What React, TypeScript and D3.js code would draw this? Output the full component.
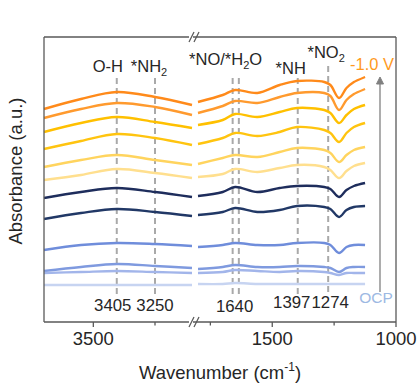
import * as d3 from "d3";

const width = 420;
const height = 384;

// wavenumbers sampled on each side of the axis break (cm-1)
const leftWn = [3700, 3550, 3405, 3250, 3100];
const rightWn = [1800, 1700, 1650, 1560, 1470, 1400, 1290, 1265, 1230, 1200, 1170, 1125];

// spectra, top (-1.0 V) to bottom (OCP), absorbance in a.u.
const leftSeries = [
  [2.13, 2.23, 2.30, 2.25, 2.17],
  [2.04, 2.13, 2.19, 2.15, 2.07],
  [1.90, 1.99, 2.05, 2.00, 1.94],
  [1.73, 1.81, 1.88, 1.84, 1.77],
  [1.55, 1.62, 1.67, 1.62, 1.57],
  [1.42, 1.47, 1.53, 1.49, 1.44],
  [1.24, 1.30, 1.34, 1.30, 1.25],
  [1.03, 1.09, 1.13, 1.10, 1.06],
  [0.72, 0.77, 0.79, 0.78, 0.76],
  [0.51, 0.55, 0.58, 0.56, 0.54],
  [0.49, 0.50, 0.51, 0.50, 0.49],
  [0.37, 0.37, 0.37, 0.37, 0.37],
];

const rightSeries = [
  [2.20, 2.27, 2.32, 2.29, 2.37, 2.41, 2.40, 2.37, 2.24, 2.34, 2.40, 2.45],
  [2.09, 2.16, 2.21, 2.19, 2.25, 2.29, 2.29, 2.26, 2.12, 2.22, 2.28, 2.33],
  [1.97, 2.02, 2.08, 2.05, 2.10, 2.14, 2.12, 2.09, 1.99, 2.07, 2.13, 2.17],
  [1.78, 1.84, 1.89, 1.86, 1.90, 1.95, 1.92, 1.89, 1.80, 1.89, 1.95, 1.99],
  [1.58, 1.64, 1.67, 1.65, 1.70, 1.74, 1.72, 1.69, 1.60, 1.67, 1.72, 1.75],
  [1.45, 1.48, 1.53, 1.50, 1.54, 1.57, 1.55, 1.52, 1.44, 1.51, 1.56, 1.59],
  [1.26, 1.30, 1.35, 1.30, 1.34, 1.36, 1.35, 1.33, 1.25, 1.32, 1.36, 1.39],
  [1.07, 1.10, 1.14, 1.10, 1.12, 1.16, 1.15, 1.13, 1.05, 1.12, 1.15, 1.16],
  [0.75, 0.77, 0.79, 0.77, 0.77, 0.79, 0.79, 0.77, 0.69, 0.75, 0.77, 0.77],
  [0.53, 0.55, 0.57, 0.55, 0.55, 0.56, 0.55, 0.54, 0.50, 0.54, 0.55, 0.55],
  [0.49, 0.50, 0.52, 0.51, 0.50, 0.51, 0.50, 0.49, 0.47, 0.49, 0.49, 0.49],
  [0.38, 0.38, 0.39, 0.38, 0.38, 0.38, 0.38, 0.38, 0.38, 0.38, 0.38, 0.38],
];

const colors = [
  "#FF8A1A", "#FF9A2E", "#FFC000", "#FFC40F", "#FFD45E", "#FFDF8E",
  "#1E2D5C", "#213866", "#6F8DDB", "#7F9ADF", "#A2B5EA", "#C7D4F1",
];

const majorTicks = [3500, 1500, 1000];
const minorTicks = [3250, 1750, 1250];

// dashed guide lines
const leftGuides = [3405, 3250];
const rightGuides = [1660, 1635, 1397, 1274];

const font = "'Liberation Sans', Arial, sans-serif";

const App = () => {
  const left = 44, right = 396, top = 37, bottom = 322;
  const xL = d3.scaleLinear().domain([3700, 3100]).range([left, 192]);
  const xR = d3.scaleLinear().domain([1800, 1000]).range([198, right]);
  const y = d3.scaleLinear().domain([0, 2.85]).range([bottom, top]);
  const xAny = (w: number) => (w > 2500 ? xL(w) : xR(w));

  const lineL = d3.line<number>().x((_, i) => xL(leftWn[i])).y(d => y(d)).curve(d3.curveCatmullRom.alpha(0.5));
  const lineR = d3.line<number>().x((_, i) => xR(rightWn[i])).y(d => y(d)).curve(d3.curveCatmullRom.alpha(0.5));

  const frame = "#595959";
  const brk = 195;

  const breakMark = (yy: number) => (
    <g stroke={frame} strokeWidth={1.3}>
      <line x1={brk - 6} y1={yy} x2={brk - 2} y2={yy} stroke="#fff" strokeWidth={3} />
      <line x1={brk - 6} y1={yy + 5} x2={brk - 1} y2={yy - 5} />
      <line x1={brk - 1} y1={yy + 5} x2={brk + 4} y2={yy - 5} />
    </g>
  );

  return (
    <svg width={width} height={height} style={{ position: "absolute", left: 0, top: 0 }} fontFamily={font}>
      <rect width={width} height={height} fill="#fff" />

      {/* dashed guides */}
      <g stroke="#A9A9A9" strokeWidth={2} strokeDasharray="6 4">
        {leftGuides.map(w => <line key={w} x1={xL(w)} x2={xL(w)} y1={78} y2={294} />)}
        {rightGuides.map(w => <line key={w} x1={xR(w)} x2={xR(w)} y1={w === 1274 ? 66 : 78} y2={294} />)}
      </g>

      {/* spectra */}
      {leftSeries.map((s, i) => (
        <path key={"l" + i} d={lineL(s) || ""} fill="none" stroke={colors[i]} strokeWidth={2.4} />
      ))}
      {rightSeries.map((s, i) => (
        <path key={"r" + i} d={lineR(s) || ""} fill="none" stroke={colors[i]} strokeWidth={2.4} />
      ))}

      {/* frame */}
      <g stroke={frame} strokeWidth={1.3} fill="none">
        <line x1={left} x2={left} y1={top} y2={bottom} />
        <line x1={right} x2={right} y1={top} y2={bottom} />
        <line x1={left} x2={right} y1={top} y2={top} />
        <line x1={left} x2={right} y1={bottom} y2={bottom} />
        {majorTicks.map(w => <line key={w} x1={xAny(w)} x2={xAny(w)} y1={bottom} y2={bottom + 5} />)}
        {minorTicks.map(w => <line key={w} x1={xAny(w)} x2={xAny(w)} y1={bottom} y2={bottom + 3.5} />)}
      </g>
      {breakMark(top)}
      {breakMark(bottom)}

      {/* tick labels */}
      <g fontSize={18.5} fill="#262626" textAnchor="middle">
        {majorTicks.map(w => <text key={w} x={xAny(w)} y={345}>{w}</text>)}
      </g>
      <text x={220} y={379} fontSize={18.5} textAnchor="middle" fill="#262626">
        Wavenumber (cm<tspan fontSize={12} dy={-8}>-1</tspan><tspan dy={8}>)</tspan>
      </text>
      <text transform="translate(22,171) rotate(-90)" fontSize={18.5} textAnchor="middle" fill="#262626">
        Absorbance (a.u.)
      </text>

      {/* peak position labels */}
      <g fontSize={16.8} fill="#262626" textAnchor="middle">
        <text x={xL(3405) - 4} y={311}>3405</text>
        <text x={xL(3250)} y={311}>3250</text>
        <text x={xR(1640) - 3} y={312}>1640</text>
        <text x={xR(1397) - 6} y={308}>1397</text>
        <text x={xR(1274) + 2} y={308}>1274</text>
      </g>

      {/* band assignments */}
      <g fontSize={16.5} fill="#262626" textAnchor="middle">
        <text x={xL(3405) - 9} y={72}>O-H</text>
        <text x={xL(3250) - 6} y={72}>*NH<tspan fontSize={11} dy={4}>2</tspan></text>
        <text x={xR(1640) - 12} y={65}>*NO/*H<tspan fontSize={11} dy={4}>2</tspan><tspan dy={-4}>O</tspan></text>
        <text x={xR(1397) - 7} y={74}>*NH</text>
        <text x={xR(1274) - 2} y={58}>*NO<tspan fontSize={11} dy={4}>2</tspan></text>
      </g>

      {/* potential arrow */}
      <line x1={380} x2={380} y1={292} y2={82} stroke="#808080" strokeWidth={1.3} />
      <path d="M376.5,84 L380,77 L383.5,84 Z" fill="#808080" stroke="#808080" strokeWidth={1} />
      <text x={372} y={70} fontSize={16.5} fill="#FF9A1E" textAnchor="middle">-1.0 V</text>
      <text x={376} y={303} fontSize={15.5} fill="#9DB9E3" textAnchor="middle">OCP</text>
    </svg>
  );
};

export default App;
